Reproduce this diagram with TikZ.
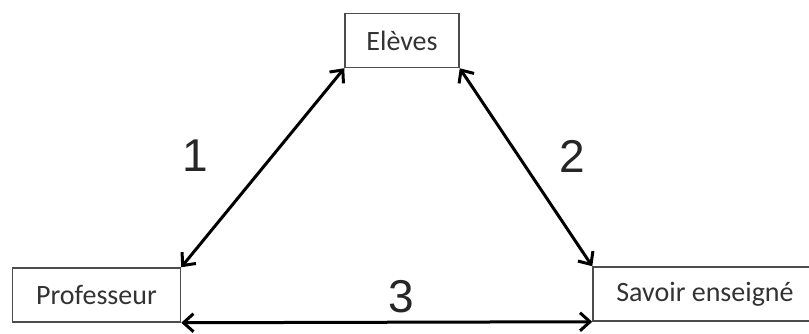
\documentclass[tikz,border=0pt]{standalone}
\usepackage{fontspec}
\setmainfont{Carlito}
\newfontfamily\numfont{Liberation Sans}
\usetikzlibrary{arrows.meta}
\begin{document}
\begin{tikzpicture}[x=1pt,y=-1pt,
    pole/.style={draw=black!70, line width=1.5pt, fill=white, inner sep=0pt,
      minimum height=54pt, font=\fontsize{28}{30}\selectfont, text=black!80},
    link/.style={{Straight Barb[length=10pt,width=18pt]}-{Straight Barb[length=10pt,width=18pt]},
      line width=3pt},
    num/.style={font=\numfont\fontsize{46}{48}\selectfont, text=black!85}]
    \useasboundingbox (0,0) rectangle (809,334);
    \clip (0,0) rectangle (809,334);

    % The three poles
    \node[pole, minimum width=114pt] (eleves) at (402,40.5) {Elèves};
    \node[pole, minimum width=168pt] (prof) at (96.5,295) {Professeur};
    \node[pole, minimum width=224pt] (savoir) at (705,294) {Savoir enseigné};

    % Relations
    \draw[link] (prof.north east) -- (eleves.south west);
    \draw[link] (eleves.south east) -- (savoir.north west);
    \draw[link] (prof.south east) -- (savoir.south west);

    % Relation numbers
    \node[num] (n1) at (195,156) {1};
    \node[num] (n2) at (572,156) {2};
    \node[num] (n3) at (401,297) {3};
  \end{tikzpicture}
\end{document}
